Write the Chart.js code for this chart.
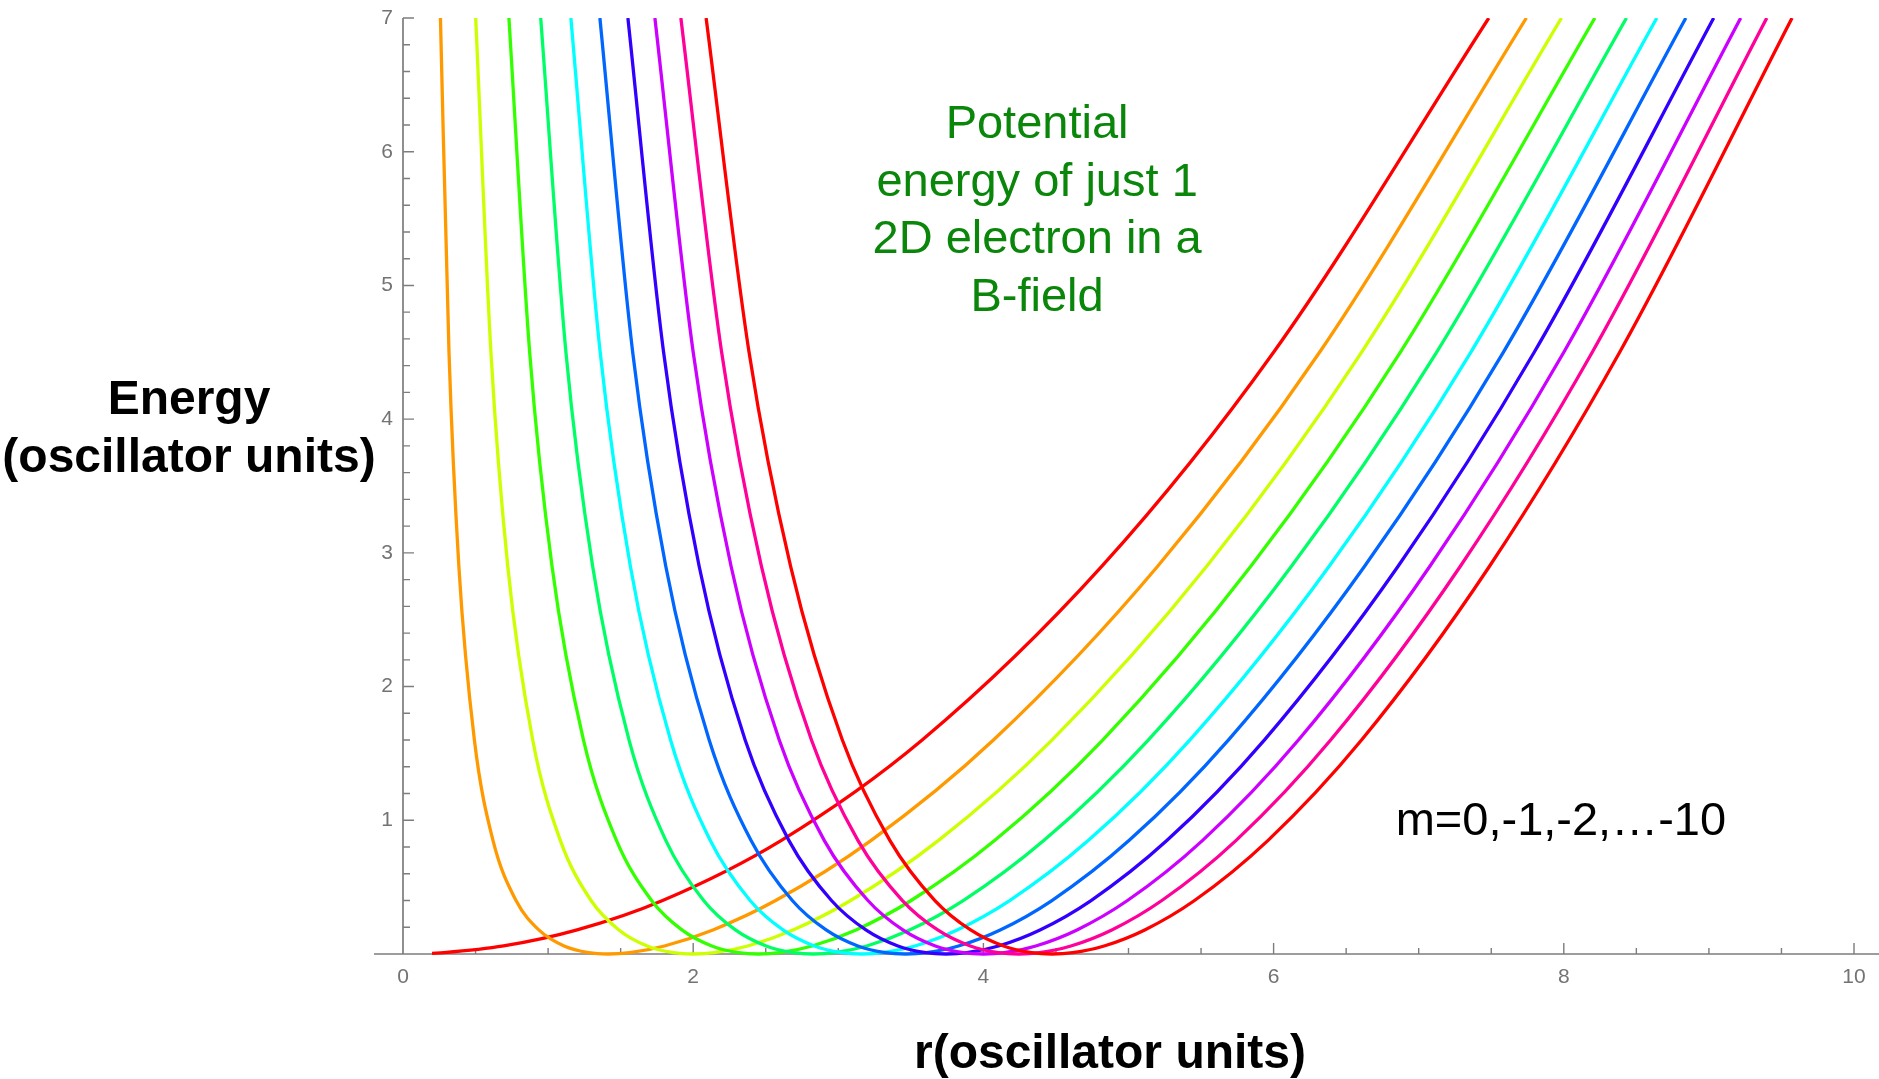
<!DOCTYPE html>
<html lang="en">
<head>
<meta charset="UTF-8">
<title>Potential energy of a 2D electron in a B-field</title>
<script src="https://cdn.jsdelivr.net/npm/chart.js@4"></script>
<style>
  html, body { margin: 0; padding: 0; background: #fff; }
  canvas { display: block; }
</style>
</head>
<body>
<canvas id="potentialChart" width="1879" height="1079"></canvas>
<script>
// one curve per angular momentum m
const mValues = [0, -1, -2, -3, -4, -5, -6, -7, -8, -9, -10];
const lineColors = ['#ff0000', '#ff9900', '#ccff00', '#33ff00', '#00ff66', '#00ffff',
                    '#0066ff', '#3300ff', '#cc00ff', '#ff0099', '#ff0000'];

// energies (oscillator units) where each curve was sampled, top to bottom
const energyLevels = [7, 4.5, 2.9, 1.6, 0.85, 0.4, 0.18, 0.06, 0.01];

// r at those energies on the inner (falling) branch
const innerR = [
  [],
  [0.258, 0.317, 0.385, 0.492, 0.620, 0.779, 0.936, 1.110, 1.280],
  [0.501, 0.606, 0.722, 0.894, 1.084, 1.296, 1.488, 1.683, 1.864],
  [0.730, 0.873, 1.027, 1.244, 1.471, 1.713, 1.922, 2.128, 2.312],
  [0.949, 1.123, 1.307, 1.558, 1.811, 2.072, 2.291, 2.503, 2.691],
  [1.157, 1.359, 1.567, 1.844, 2.117, 2.392, 2.619, 2.835, 3.024],
  [1.357, 1.583, 1.811, 2.110, 2.398, 2.683, 2.916, 3.135, 3.326],
  [1.550, 1.796, 2.041, 2.358, 2.659, 2.953, 3.190, 3.411, 3.603],
  [1.736, 2.000, 2.261, 2.593, 2.903, 3.204, 3.445, 3.669, 3.861],
  [1.915, 2.196, 2.470, 2.815, 3.135, 3.442, 3.685, 3.910, 4.104],
  [2.089, 2.385, 2.671, 3.028, 3.355, 3.666, 3.912, 4.139, 4.333]
];

// r at those energies on the outer (rising) branch
const outerR = [
  [7.483, 6.000, 4.817, 3.578, 2.608, 1.789, 1.200, 0.693, 0.283],
  [7.742, 6.317, 5.201, 4.069, 3.227, 2.568, 2.136, 1.802, 1.563],
  [7.984, 6.606, 5.539, 4.472, 3.691, 3.085, 2.688, 2.376, 2.146],
  [8.214, 6.873, 5.843, 4.822, 4.079, 3.502, 3.122, 2.820, 2.595],
  [8.432, 7.123, 6.123, 5.136, 4.418, 3.861, 3.491, 3.196, 2.973],
  [8.641, 7.359, 6.383, 5.422, 4.724, 4.181, 3.819, 3.528, 3.307],
  [8.841, 7.583, 6.627, 5.688, 5.005, 4.472, 4.116, 3.828, 3.608],
  [9.033, 7.796, 6.858, 5.936, 5.266, 4.742, 4.390, 4.104, 3.886],
  [9.219, 8.000, 7.077, 6.171, 5.511, 4.993, 4.645, 4.361, 4.144],
  [9.399, 8.196, 7.287, 6.393, 5.742, 5.230, 4.885, 4.603, 4.386],
  [9.573, 8.385, 7.488, 6.606, 5.962, 5.455, 5.112, 4.832, 4.616]
];

// lowest point of each curve [r, energy]
const bottomPoints = [
  [0.2, 0.005], [1.414, 0], [2.0, 0], [2.449, 0], [2.828, 0], [3.162, 0],
  [3.464, 0], [3.742, 0], [4.0, 0], [4.243, 0], [4.472, 0]
];

const xTickValues = [0, 2, 4, 6, 8, 10];
const xTickLabels = ['0', '2', '4', '6', '8', '10'];
const yTickValues = [1, 2, 3, 4, 5, 6, 7];
const yTickLabels = ['1', '2', '3', '4', '5', '6', '7'];

const noteLines = ['Potential', 'energy of just 1', '2D electron in a', 'B-field'];
const mNote = 'm=0,-1,-2,\u2026-10';

function curvePoints(i) {
  const pts = [];
  innerR[i].forEach((r, j) => pts.push({ x: r, y: energyLevels[j] }));
  pts.push({ x: bottomPoints[i][0], y: bottomPoints[i][1] });
  for (let j = energyLevels.length - 1; j >= 0; j--) {
    pts.push({ x: outerR[i][j], y: energyLevels[j] });
  }
  return pts;
}

const datasets = mValues.map((m, i) => ({
  label: 'm=' + m,
  data: curvePoints(i),
  showLine: true,
  borderColor: lineColors[i],
  borderWidth: 3.3,
  pointRadius: 0,
  cubicInterpolationMode: 'monotone',
  clip: { left: 5, top: 0, right: 5, bottom: 4 },
  order: mValues.length - i   // later curves on top
}));

const FONT = "'Liberation Sans', Arial, Helvetica, sans-serif";

// Mathematica style axes: crossing at the origin, ticks pointing inwards
const axesPlugin = {
  id: 'originAxes',
  beforeDatasetsDraw(chart) {
    const { ctx, scales: { x, y } } = chart;
    const x0 = x.getPixelForValue(0);
    const y0 = y.getPixelForValue(0);
    ctx.save();
    ctx.strokeStyle = '#7d7d7d';
    ctx.lineWidth = 1.7;
    ctx.beginPath();
    ctx.moveTo(x.getPixelForValue(-0.2), y0);
    ctx.lineTo(chart.width, y0);
    ctx.moveTo(x0, y0);
    ctx.lineTo(x0, y.getPixelForValue(7));
    ctx.stroke();

    ctx.lineWidth = 1.4;
    ctx.beginPath();
    for (let k = 1; k <= 21; k++) {
      const px = x.getPixelForValue(k * 0.5);
      if (px > chart.width) break;
      const len = (k % 4 === 0) ? 11 : 6;
      ctx.moveTo(px, y0);
      ctx.lineTo(px, y0 - len);
    }
    for (let k = 1; k <= 35; k++) {
      const py = y.getPixelForValue(k * 0.2);
      const len = (k % 5 === 0) ? 11 : 7;
      ctx.moveTo(x0, py);
      ctx.lineTo(x0 + len, py);
    }
    ctx.stroke();

    ctx.fillStyle = '#737373';
    ctx.font = '21px ' + FONT;
    ctx.textAlign = 'center';
    ctx.textBaseline = 'middle';
    xTickValues.forEach((v, i) => {
      ctx.fillText(xTickLabels[i], x.getPixelForValue(v), y0 + 23);
    });
    ctx.textAlign = 'right';
    yTickValues.forEach((v, i) => {
      ctx.fillText(yTickLabels[i], x0 - 10, y.getPixelForValue(v));
    });
    ctx.restore();
  },
  afterDraw(chart) {
    const { ctx, scales: { x, y } } = chart;
    ctx.save();
    ctx.textAlign = 'center';
    ctx.textBaseline = 'alphabetic';

    // annotation in the upper middle
    ctx.fillStyle = '#0a860a';
    ctx.font = '47px ' + FONT;
    noteLines.forEach((line, i) => {
      ctx.fillText(line, x.getPixelForValue(4.37), y.getPixelForValue(6.1) + i * 57.5);
    });

    ctx.fillStyle = '#000';
    ctx.fillText(mNote, x.getPixelForValue(7.98), y.getPixelForValue(0.89));

    // axis titles
    ctx.font = 'bold 48px ' + FONT;
    ctx.fillText('Energy', 189, 414);
    ctx.fillText('(oscillator units)', 189, 472);
    ctx.fillText('r(oscillator units)', 1110, 1068);
    ctx.restore();
  }
};

new Chart(document.getElementById('potentialChart'), {
  type: 'scatter',
  data: { datasets },
  options: {
    responsive: false,
    animation: false,
    devicePixelRatio: 1,
    layout: { padding: { left: 403, right: 25, top: 18, bottom: 125 } },
    plugins: { legend: { display: false }, tooltip: { enabled: false } },
    scales: {
      x: { type: 'linear', min: 0, max: 10, display: false },
      y: { type: 'linear', min: 0, max: 7, display: false }
    }
  },
  plugins: [axesPlugin]
});
</script>
</body>
</html>
